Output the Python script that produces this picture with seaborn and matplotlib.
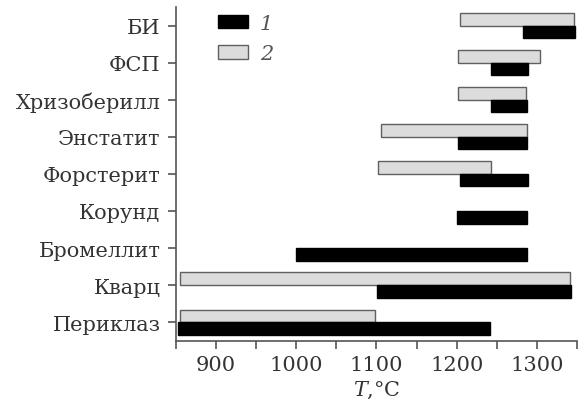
import matplotlib
matplotlib.use("Agg")
import matplotlib.pyplot as plt
import seaborn as sns
import numpy as np
from matplotlib.patches import Patch
from matplotlib.ticker import MultipleLocator

categories = ['БИ', 'ФСП', 'Хризоберилл', 'Энстатит', 'Форстерит',
              'Корунд', 'Бромеллит', 'Кварц', 'Периклаз']
s1_start = [1282, 1242, 1242, 1201, 1204, 1200, 1000, 1101, 853]
s1_end   = [1347, 1288, 1287, 1287, 1288, 1287, 1287, 1342, 1241]
s2_start = [1204, 1201, 1202, 1105, 1102, np.nan, np.nan, 855, 855]
s2_end   = [1346, 1303, 1286, 1287, 1243, np.nan, np.nan, 1341, 1098]
legend_labels = ['1', '2']
x_label = r'$T$,°C'

sns.set_theme(style='ticks')
plt.rcParams['font.family'] = ['DejaVu Serif']
plt.rcParams['mathtext.fontset'] = 'dejavuserif'

fig = plt.figure(figsize=(5.8, 4.02), dpi=100)
ax = fig.add_axes([175.7/580, 1-341.7/402, (577.3-175.7)/580, (341.7-8)/402])

y = np.arange(len(categories))
h = 0.34
s1s = np.array(s1_start, float); s1e = np.array(s1_end, float)
s2s = np.array(s2_start, float); s2e = np.array(s2_end, float)
ax.barh(y - h/2, s2e - s2s, left=s2s, height=h, color='#dcdcdc',
        edgecolor='#606060', linewidth=1.0)
ax.barh(y + h/2, s1e - s1s, left=s1s, height=h, color='black',
        edgecolor='black', linewidth=1.0)

ax.set_xlim(850, 1350)
ax.set_ylim(len(categories) - 0.5, -0.5)
ax.set_yticks(y)
ax.set_yticklabels(categories)
ax.xaxis.set_major_locator(MultipleLocator(100))
ax.xaxis.set_minor_locator(MultipleLocator(50))
ax.set_xticks([900, 1000, 1100, 1200, 1300])
ax.tick_params(axis='both', which='both', direction='out', length=6,
               width=1.2, color='#555555', labelsize=15, labelcolor='#333333')
ax.tick_params(axis='x', which='minor', length=6)
ax.tick_params(axis='y', pad=5)
ax.tick_params(axis='x', pad=4)
for sp in ['top', 'right']:
    ax.spines[sp].set_visible(False)
for sp in ['left', 'bottom']:
    ax.spines[sp].set_color('#555555')
    ax.spines[sp].set_linewidth(1.2)
ax.set_xlabel(x_label, fontsize=15, color='#333333', labelpad=4)

handles = [Patch(facecolor='black', edgecolor='black'),
           Patch(facecolor='#dcdcdc', edgecolor='#606060')]
leg = ax.legend(handles, legend_labels, loc='upper left',
                bbox_to_anchor=(218/580, 1-15/402), bbox_transform=fig.transFigure,
                frameon=False, fontsize=15, handlelength=1.45, handleheight=0.62,
                handletextpad=0.55, labelspacing=0.55, borderpad=0, borderaxespad=0)
for t in leg.get_texts():
    t.set_fontstyle('italic')
    t.set_color('#555555')

fig.savefig('out.png', dpi=100)
